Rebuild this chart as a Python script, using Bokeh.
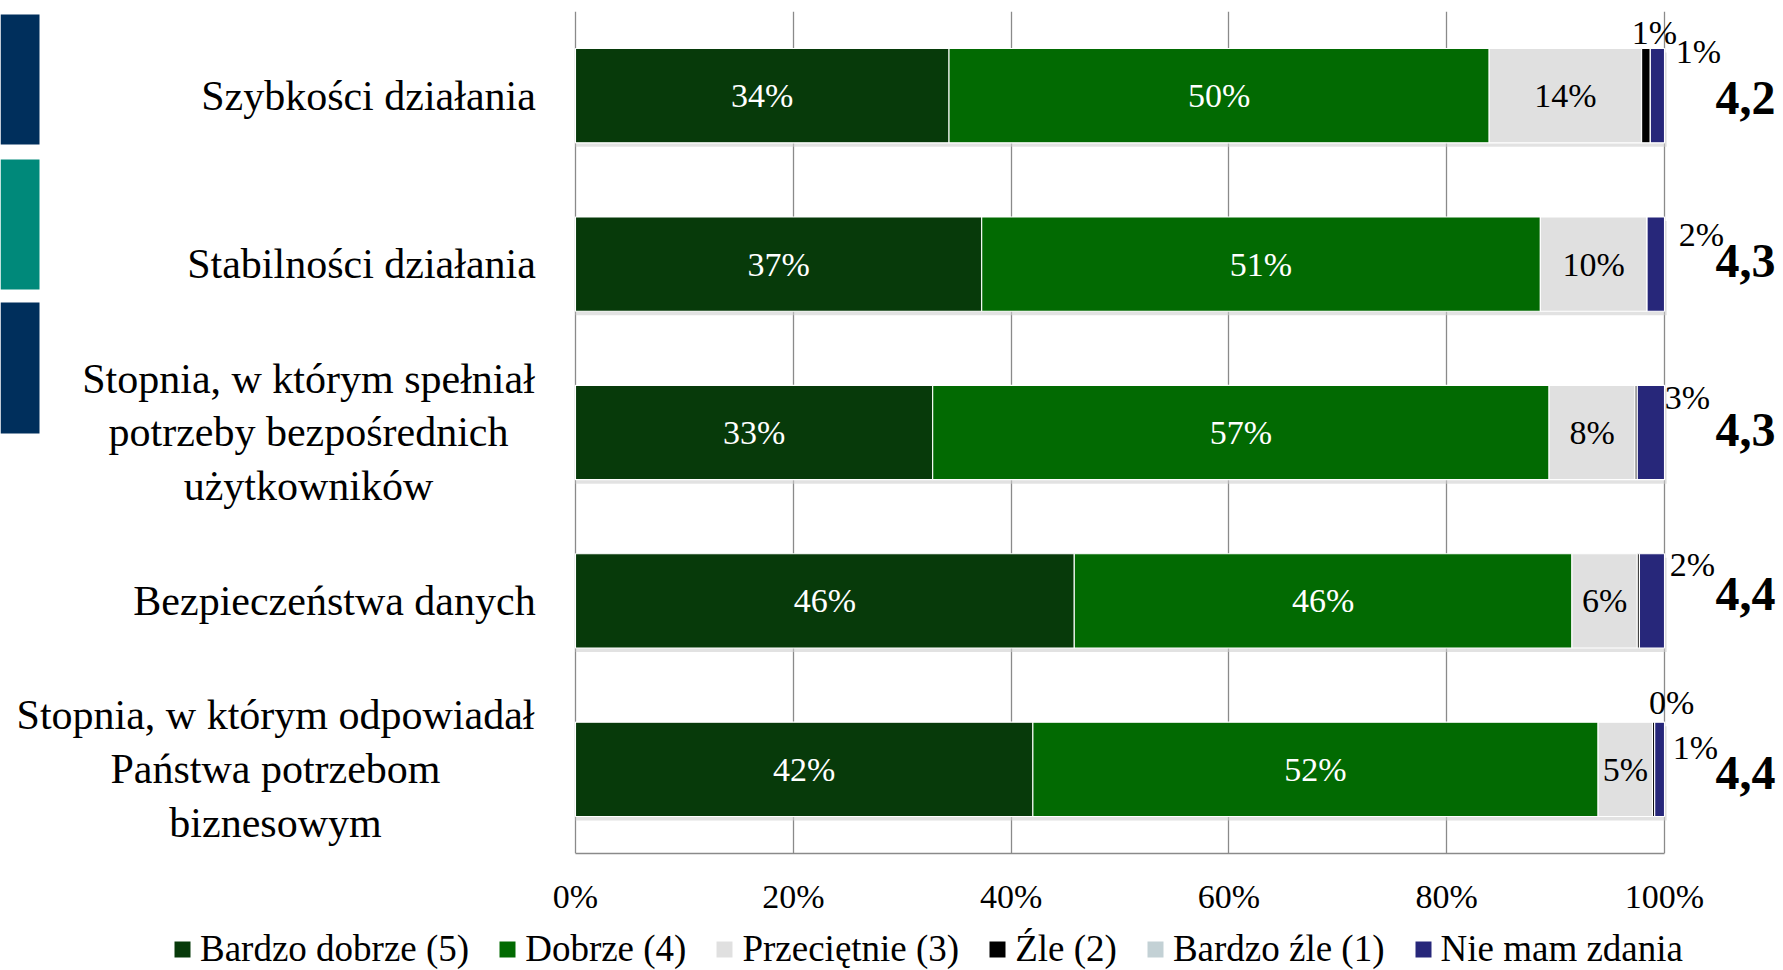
from bokeh.plotting import figure
from bokeh.layouts import column
from bokeh.models import ColumnDataSource, Range1d, FixedTicker, Legend, LegendItem
from bokeh.core.properties import value
from bokeh.embed import file_html
from bokeh.resources import INLINE

# ---------------- data ----------------
categories = [
    "Szybkości działania",
    "Stabilności działania",
    "Stopnia, w którym spełniał\npotrzeby bezpośrednich\nużytkowników",
    "Bezpieczeństwa danych",
    "Stopnia, w którym odpowiadał\nPaństwa potrzebom\nbiznesowym",
]
series_names = ["Bardzo dobrze (5)", "Dobrze (4)", "Przeciętnie (3)",
                "Źle (2)", "Bardzo źle (1)", "Nie mam zdania"]
bardzo_dobrze = [34.3, 37.3, 32.8, 45.8, 42.0]
dobrze = [49.6, 51.3, 56.6, 45.7, 51.9]
przecietnie = [14.0, 9.8, 7.9, 6.0, 5.0]
zle = [0.8, 0.0, 0.2, 0.2, 0.2]
bardzo_zle = [0.0, 0.0, 0.0, 0.0, 0.0]
nie_mam_zdania = [1.3, 1.6, 2.5, 2.3, 0.9]
scores = ["4,2", "4,3", "4,3", "4,4", "4,4"]
x_ticks = [0, 20, 40, 60, 80, 100]
x_tick_labels = ["0%", "20%", "40%", "60%", "80%", "100%"]

# labels drawn outside the bars: (category index, series index)
outside_cat = [0, 0, 1, 2, 3, 4, 4]
outside_series = [3, 5, 5, 5, 5, 3, 5]

# ---------------- style ----------------
colors = ["#073A0A", "#026A02", "#E0E0E0", "#000000", "#C3D1D5", "#27277A"]
inside_text_colors = ["white", "white", "black"]
FONT = value("Liberation Serif")
W, H = 1783, 925
LEG_H = 45
X0_PX, X100_PX = 575, 1664          # figure px of 0% and 100%
TOP_BORDER, BOTTOM_BORDER = 11, 72
PPU = (X100_PX - X0_PX) / 100.0
BAND_PX = (H - TOP_BORDER - BOTTOM_BORDER) / 5.0
BAR_H = 0.56
# outside label offsets in screen px
outside_dx = [4, 34, 37, 23, 28, 17, 31]
outside_dy = [-63, -44, -30, -35, -36, -67, -22]
score_dx = 81
score_dy = [2, -3, -3, -7, 4]
# category label block centres (figure px)
cat_center_px = [368, 361, 308, 334, 275]
# decorative side blocks (figure px): x0, x1, list of (top, bottom)
deco_x = (0, 39)
deco_y = [(14, 144), (159, 289), (302, 433)]
deco_colors = ["#002F5C", "#00897A", "#002F5C"]


def px_to_x(px):
    return (px - X0_PX) / PPU


def py_to_y(py):
    return 4.5 - (py - TOP_BORDER) / BAND_PX


n = len(categories)
ys = [n - 1 - i for i in range(n)]
series = [bardzo_dobrze, dobrze, przecietnie, zle, bardzo_zle, nie_mam_zdania]
keys = ["s%d" % k for k in range(len(series))]

src = ColumnDataSource(dict(y=ys, **{k: v for k, v in zip(keys, series)}))

p = figure(width=W, height=H, output_backend="svg", toolbar_location=None,
           x_range=Range1d(px_to_x(0), px_to_x(W)), y_range=Range1d(-0.5, 4.5),
           min_border_left=0, min_border_right=0, min_border_top=TOP_BORDER,
           min_border_bottom=BOTTOM_BORDER, y_axis_location=None,
           outline_line_color=None, background_fill_color="white",
           border_fill_color="white")

# grid
p.xgrid.ticker = FixedTicker(ticks=x_ticks)
p.xgrid.grid_line_color = "#8A8A8A"
p.xgrid.grid_line_width = 1.3
p.ygrid.visible = False

# x axis
ax = p.xaxis[0]
ax.ticker = FixedTicker(ticks=x_ticks)
ax.major_label_overrides = {t: l for t, l in zip(x_ticks, x_tick_labels)}
ax.bounds = (0, 100)
ax.axis_line_color = "#8A8A8A"
ax.axis_line_width = 1.3
ax.major_tick_line_color = None
ax.minor_tick_line_color = None
ax.major_label_text_font = "Liberation Serif"
ax.major_label_text_font_size = "34px"
ax.major_label_text_color = "black"
ax.major_label_standoff = 18

# decorative blocks
p.quad(left=[px_to_x(deco_x[0])] * 3, right=[px_to_x(deco_x[1])] * 3,
       top=[py_to_y(a) for a, b in deco_y], bottom=[py_to_y(b) for a, b in deco_y],
       fill_color=deco_colors, line_color=None)

# bar shadows
p.hbar(y=[y - 4 / BAND_PX for y in ys], left=0, right=[sum(s[i] for s in series) + 0.2 for i in range(n)],
       height=BAR_H, fill_color="#CFCFCF", fill_alpha=0.6, line_color=None)

# stacked bars
renderers = p.hbar_stack(keys, y="y", height=BAR_H, color=colors, source=src,
                         line_color="white", line_width=1.1)

# inside labels
lx, ly, lt, lc = [], [], [], []
for i in range(n):
    cum = 0.0
    for k, s in enumerate(series):
        v = s[i]
        if k < 3:
            lx.append(cum + v / 2)
            ly.append(ys[i])
            lt.append("%d%%" % int(v + 0.5))
            lc.append(inside_text_colors[k])
        cum += v
p.text(x=lx, y=ly, text=lt, text_color=lc, text_font=FONT, text_font_size="34px",
       text_align="center", text_baseline="middle")

# outside labels
ox, oy, ot = [], [], []
for ci, si in zip(outside_cat, outside_series):
    end = sum(series[k][ci] for k in range(si + 1))
    ox.append(end)
    oy.append(ys[ci])
    ot.append("%d%%" % int(series[si][ci] + 0.5))
p.text(x=ox, y=oy, text=ot, x_offset=outside_dx, y_offset=outside_dy,
       text_color="black", text_font=FONT, text_font_size="34px",
       text_align="center", text_baseline="middle")

# scores
p.text(x=[100] * n, y=ys, text=scores, x_offset=score_dx, y_offset=score_dy,
       text_color="black", text_font=FONT, text_font_size="48px",
       text_font_style="bold", text_align="center", text_baseline="middle")

# category labels
p.text(x=[px_to_x(c) for c in cat_center_px], y=ys, text=categories,
       text_color="black", text_font=FONT, text_font_size="42px",
       text_align="center", text_baseline="middle", text_line_height=1.17)

# ---------------- legend strip ----------------
pl = figure(width=W, height=LEG_H, output_backend="svg", toolbar_location=None,
            x_range=Range1d(0, 1), y_range=Range1d(0, 1),
            x_axis_location=None, y_axis_location=None,
            min_border=0, outline_line_color=None, border_fill_color="white")
pl.xgrid.visible = False
pl.ygrid.visible = False
leg_renderers = pl.hbar_stack(keys, y="y", height=BAR_H, color=colors, source=src,
                              line_color=None)
for r in leg_renderers:
    r.visible = False
legend = Legend(items=[LegendItem(label=nm, renderers=[r]) for nm, r in zip(series_names, leg_renderers)],
                orientation="horizontal", location=(172, 0), padding=0, margin=0,
                spacing=28, label_standoff=8, glyph_width=20, glyph_height=20,
                label_text_font="Liberation Serif", label_text_font_size="37px",
                label_text_color="black", inactive_fill_alpha=0,
                border_line_color=None, background_fill_alpha=0)
pl.add_layout(legend, "center")

layout = column(p, pl, spacing=0)
open("out.html", "w").write(file_html(layout, INLINE))
